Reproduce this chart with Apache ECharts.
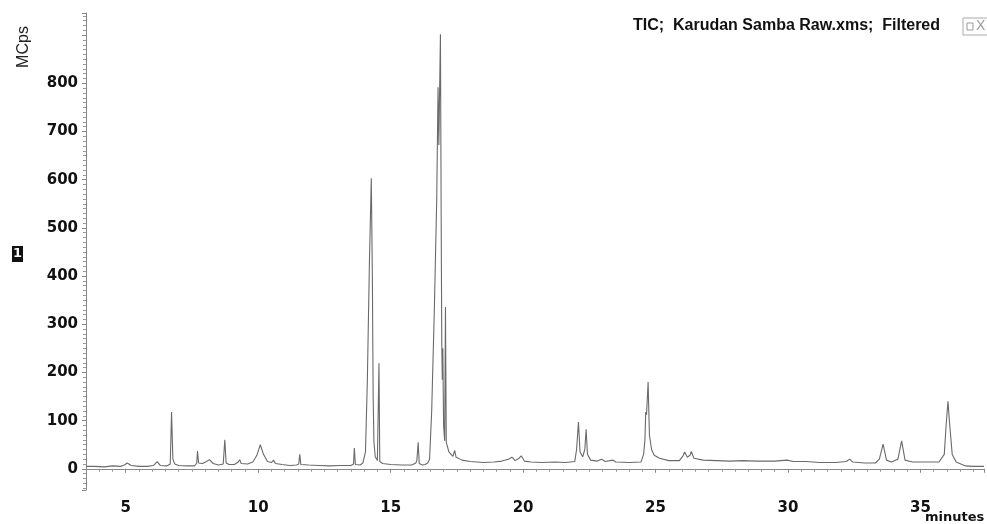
<!DOCTYPE html>
<html>
<head>
<meta charset="utf-8">
<script src="https://cdn.jsdelivr.net/npm/echarts@6.0.0/dist/echarts.min.js"></script>
<style>
  html, body { margin: 0; padding: 0; background: #fff; }
  #chart { width: 987px; height: 524px; }
</style>
</head>
<body>
<div id="chart"></div>
<script>
// retention time (minutes) and intensity (MCps)
var times = [
    3.50, 3.80, 4.20, 4.50, 4.80, 4.95, 5.06, 5.20, 5.50, 5.80,
    6.05, 6.19, 6.30, 6.55, 6.68, 6.73, 6.78, 6.85, 7.00, 7.30,
    7.60, 7.68, 7.71, 7.75, 7.90, 8.05, 8.16, 8.30, 8.50, 8.68,
    8.74, 8.79, 8.90, 9.10, 9.25, 9.30, 9.36, 9.60, 9.80, 9.95,
    10.08, 10.20, 10.35, 10.50, 10.58, 10.65, 10.90, 11.20, 11.45, 11.53,
    11.57, 11.61, 11.90, 12.30, 12.70, 13.10, 13.50, 13.60, 13.63, 13.67,
    13.85, 13.95, 14.05, 14.12, 14.20, 14.27, 14.31, 14.34, 14.37, 14.42,
    14.50, 14.54, 14.56, 14.59, 14.70, 15.00, 15.40, 15.80, 15.95, 15.99,
    16.04, 16.08, 16.20, 16.30, 16.40, 16.47, 16.55, 16.65, 16.74, 16.79,
    16.82, 16.88, 16.91, 16.93, 16.95, 16.97, 17.00, 17.04, 17.07, 17.10,
    17.20, 17.35, 17.42, 17.47, 17.70, 18.00, 18.50, 18.90, 19.20, 19.45,
    19.58, 19.70, 19.85, 19.93, 20.05, 20.30, 20.70, 21.20, 21.60, 21.95,
    22.02, 22.09, 22.15, 22.25, 22.33, 22.38, 22.43, 22.55, 22.80, 22.96,
    23.10, 23.40, 23.50, 24.00, 24.45, 24.55, 24.60, 24.63, 24.66, 24.72,
    24.77, 24.85, 24.95, 25.15, 25.50, 25.90, 26.05, 26.10, 26.20, 26.30,
    26.35, 26.45, 26.80, 27.30, 27.80, 28.30, 28.80, 29.50, 29.96, 30.20,
    30.68, 31.20, 31.80, 32.20, 32.33, 32.45, 32.90, 33.30, 33.45, 33.59,
    33.72, 33.90, 34.15, 34.29, 34.42, 34.70, 35.20, 35.70, 35.90, 35.97,
    36.04, 36.10, 36.20, 36.35, 36.70, 37.00, 37.40
];
var intensity = [
    5, 5, 4, 6, 5, 8, 12, 7, 5, 5,
    7, 15, 7, 6, 10, 118, 20, 10, 7, 6,
    6, 12, 37, 12, 11, 15, 19, 11, 8, 10,
    60, 12, 9, 9, 14, 19, 11, 10, 14, 28,
    50, 30, 15, 13, 18, 11, 9, 7, 8, 10,
    30, 9, 8, 7, 6, 7, 7, 10, 43, 9,
    8, 12, 35, 180, 430, 603, 400, 150, 55, 25,
    17, 16, 219, 15, 11, 9, 8, 8, 12, 17,
    55, 11, 8, 9, 12, 20, 120, 330, 560, 792,
    672, 902, 500, 264, 185, 250, 90, 58, 336, 55,
    35, 26, 38, 24, 18, 15, 13, 14, 16, 20,
    24, 17, 22, 27, 16, 14, 13, 14, 13, 15,
    40, 97, 35, 25, 40, 82, 30, 18, 16, 20,
    15, 18, 14, 13, 14, 30, 60, 118, 112, 180,
    70, 40, 28, 22, 17, 17, 28, 35, 24, 28,
    36, 22, 18, 17, 16, 17, 16, 16, 18, 15,
    15, 13, 13, 15, 20, 14, 12, 12, 20, 51,
    18, 14, 20, 58, 18, 14, 14, 14, 30, 90,
    140, 95, 30, 14, 6, 5, 5
];

var trace = [];
for (let i = 0; i < times.length; i++) {
    trace.push([times[i], intensity[i]]);
}

var chartDom = document.getElementById('chart');
var myChart = echarts.init(chartDom);

var labelFont = {
    fontFamily: 'DejaVu Sans',
    fontWeight: 'bold',
    fontSize: 15,
    color: '#111'
};

var option = {
    animation: false,
    backgroundColor: '#fff',
    grid: {
        left: 86,
        right: 0,
        top: 13,
        bottom: 34
    },
    xAxis: {
        type: 'value',
        min: 3.5,
        max: 37.4,
        splitNumber: 7,
        axisLine: { lineStyle: { color: '#888', width: 1 } },
        axisTick: { show: true, length: 4, lineStyle: { color: '#888' } },
        minorTick: { show: true, splitNumber: 10, length: 3, lineStyle: { color: '#999' } },
        splitLine: { show: false },
        axisLabel: Object.assign({
            margin: 11,
            formatter: function (v) {
                return (Math.abs(v % 5) < 1e-6) ? String(v) : '';
            }
        }, labelFont)
    },
    yAxis: {
        type: 'value',
        min: -44,
        max: 946,
        splitNumber: 10,
        axisLine: { show: true, lineStyle: { color: '#888', width: 1 } },
        axisTick: { show: true, length: 4, lineStyle: { color: '#888' } },
        minorTick: { show: true, splitNumber: 10, length: 3, lineStyle: { color: '#999' } },
        splitLine: { show: false },
        axisLabel: Object.assign({
            margin: 8,
            formatter: function (v) {
                // no label on the top tick in the original
                return (v >= 0 && v <= 800 && v % 100 === 0) ? String(v) : '';
            }
        }, labelFont)
    },
    series: [
        {
            type: 'line',
            data: trace,
            symbol: 'none',
            lineStyle: { color: '#6a6a6a', width: 1.1 },
            z: 3
        }
    ],
    graphic: [
        {
            type: 'text',
            left: 633,
            top: 18,
            style: {
                text: 'TIC;  Karudan Samba Raw.xms;  Filtered',
                font: 'bold 16px "Liberation Sans"',
                fill: '#111'
            }
        },
        {
            type: 'rect',
            shape: { x: 963, y: 18, width: 30, height: 17 },
            style: { fill: '#fff', stroke: '#aaa', lineWidth: 1 }
        },
        {
            type: 'rect',
            shape: { x: 967, y: 23, width: 6, height: 7 },
            style: { fill: '#fff', stroke: '#999', lineWidth: 1 }
        },
        {
            type: 'text',
            left: 976,
            top: 19,
            style: { text: 'X', font: '14px "Liberation Sans"', fill: '#999' }
        },
        {
            type: 'text',
            x: 24,
            y: 47,
            rotation: Math.PI / 2,
            style: {
                text: 'MCps',
                font: '16px "Liberation Sans"',
                fill: '#222',
                align: 'center',
                verticalAlign: 'middle'
            }
        },
        {
            type: 'rect',
            shape: { x: 12, y: 246, width: 11, height: 16 },
            style: { fill: '#111' }
        },
        {
            type: 'text',
            x: 17.5,
            y: 254,
            style: {
                text: '1',
                font: 'bold 13px "DejaVu Sans"',
                fill: '#fff',
                align: 'center',
                verticalAlign: 'middle'
            }
        },
        {
            type: 'text',
            left: 925,
            top: 511,
            style: {
                text: 'minutes',
                font: 'bold 13px "DejaVu Sans"',
                fill: '#111'
            }
        }
    ]
};

option && myChart.setOption(option);
window.addEventListener('resize', myChart.resize);
</script>
</body>
</html>
